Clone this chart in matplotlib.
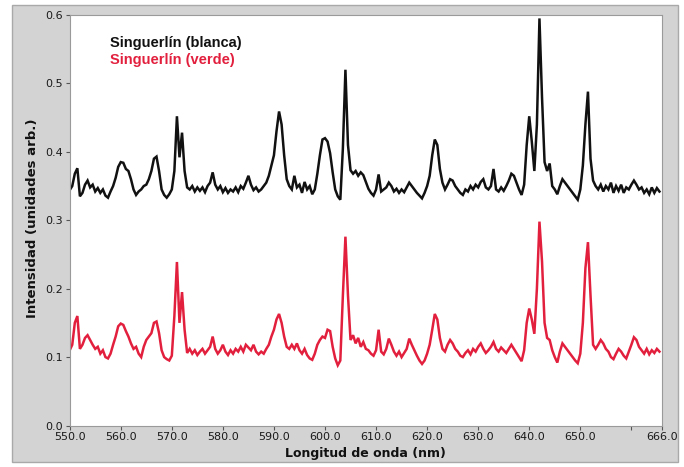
import numpy as np
import matplotlib
matplotlib.use("Agg")
import matplotlib.pyplot as plt
from matplotlib.patches import Rectangle

# ---- data (wavelength grid: 550.0 nm, 0.5 nm steps) ----
start_nm = 550.0
step_nm = 0.5

blanca = [
    0.344, 0.350, 0.368, 0.376, 0.335, 0.340, 0.352, 0.358, 0.348, 0.352,  # 550-554.5
    0.342, 0.347, 0.340, 0.345, 0.336, 0.333, 0.342, 0.350, 0.362, 0.378,  # 555-559.5
    0.385, 0.384, 0.375, 0.372, 0.360, 0.345, 0.337, 0.342, 0.345, 0.350,  # 560-564.5
    0.352, 0.360, 0.372, 0.390, 0.393, 0.372, 0.345, 0.337, 0.333, 0.338,  # 565-569.5
    0.345, 0.372, 0.452, 0.392, 0.428, 0.372, 0.348, 0.345, 0.350, 0.342,  # 570-574.5
    0.348, 0.343, 0.348, 0.341, 0.350, 0.355, 0.370, 0.352, 0.345, 0.350,  # 575-579.5
    0.341, 0.347, 0.340, 0.345, 0.342, 0.348, 0.341, 0.350, 0.346, 0.355,  # 580-584.5
    0.365, 0.352, 0.344, 0.348, 0.342, 0.345, 0.350, 0.355, 0.365, 0.380,  # 585-589.5
    0.395, 0.430, 0.459, 0.440, 0.395, 0.360, 0.350, 0.345, 0.365, 0.348,  # 590-594.5
    0.352, 0.340, 0.356, 0.345, 0.350, 0.338, 0.345, 0.368, 0.395, 0.418,  # 595-599.5
    0.420, 0.415, 0.398, 0.370, 0.345, 0.335, 0.330, 0.405, 0.520, 0.410,  # 600-604.5
    0.373, 0.368, 0.372, 0.365, 0.370, 0.366, 0.356, 0.346, 0.340, 0.336,  # 605-609.5
    0.345, 0.367, 0.342, 0.345, 0.348, 0.355, 0.350, 0.342, 0.346, 0.340,  # 610-614.5
    0.345, 0.341, 0.348, 0.355, 0.350, 0.345, 0.340, 0.336, 0.332, 0.340,  # 615-619.5
    0.350, 0.365, 0.395, 0.418, 0.410, 0.375, 0.355, 0.345, 0.352, 0.360,  # 620-624.5
    0.358, 0.350, 0.345, 0.340, 0.337, 0.345, 0.342, 0.350, 0.345, 0.352,  # 625-629.5
    0.348, 0.356, 0.360, 0.348, 0.345, 0.350, 0.375, 0.345, 0.342, 0.348,  # 630-634.5
    0.343, 0.350, 0.358, 0.368, 0.365, 0.355, 0.345, 0.337, 0.352, 0.410,  # 635-639.5
    0.452, 0.415, 0.372, 0.440, 0.595, 0.480, 0.385, 0.372, 0.383, 0.350,  # 640-644.5
    0.345, 0.338, 0.350, 0.360, 0.355, 0.350, 0.345, 0.340, 0.335, 0.330,  # 645-649.5
    0.345, 0.380, 0.440, 0.488, 0.390, 0.358, 0.350, 0.345, 0.352, 0.342,  # 650-654.5
    0.350, 0.345, 0.355, 0.340, 0.350, 0.343, 0.352, 0.340, 0.348, 0.345,  # 655-659.5
    0.352, 0.358, 0.352, 0.345, 0.348, 0.340, 0.345, 0.338, 0.348, 0.340,  # 660-664.5
    0.347, 0.342,                                                          # 665-665.5
]

verde = [
    0.110, 0.118, 0.150, 0.160, 0.112, 0.118, 0.128, 0.132, 0.125, 0.118,  # 550-554.5
    0.112, 0.115, 0.105, 0.110, 0.100, 0.098, 0.105, 0.118, 0.130, 0.145,  # 555-559.5
    0.149, 0.147, 0.138, 0.130, 0.120, 0.112, 0.115, 0.105, 0.100, 0.115,  # 560-564.5
    0.125, 0.130, 0.135, 0.150, 0.152, 0.135, 0.110, 0.100, 0.097, 0.095,  # 565-569.5
    0.102, 0.160, 0.239, 0.150, 0.195, 0.140, 0.106, 0.112, 0.105, 0.110,  # 570-574.5
    0.103, 0.108, 0.112, 0.105, 0.110, 0.115, 0.130, 0.112, 0.105, 0.110,  # 575-579.5
    0.118, 0.108, 0.103, 0.110, 0.105, 0.112, 0.108, 0.115, 0.108, 0.118,  # 580-584.5
    0.114, 0.110, 0.118, 0.108, 0.104, 0.108, 0.105, 0.112, 0.118, 0.130,  # 585-589.5
    0.140, 0.155, 0.163, 0.150, 0.130, 0.115, 0.112, 0.118, 0.112, 0.120,  # 590-594.5
    0.110, 0.105, 0.112, 0.103, 0.098, 0.096, 0.105, 0.118, 0.125, 0.130,  # 595-599.5
    0.128, 0.140, 0.138, 0.115, 0.098, 0.088, 0.095, 0.190, 0.276, 0.190,  # 600-604.5
    0.125, 0.132, 0.120, 0.128, 0.115, 0.122, 0.112, 0.110, 0.105, 0.102,  # 605-609.5
    0.110, 0.140, 0.108, 0.104, 0.112, 0.127, 0.118, 0.108, 0.102, 0.108,  # 610-614.5
    0.100, 0.106, 0.112, 0.127, 0.118, 0.110, 0.102, 0.095, 0.090, 0.095,  # 615-619.5
    0.105, 0.118, 0.140, 0.163, 0.155, 0.128, 0.112, 0.108, 0.118, 0.125,  # 620-624.5
    0.120, 0.112, 0.108, 0.102, 0.100, 0.106, 0.110, 0.104, 0.112, 0.108,  # 625-629.5
    0.115, 0.120, 0.112, 0.106, 0.110, 0.115, 0.122, 0.112, 0.108, 0.114,  # 630-634.5
    0.110, 0.106, 0.112, 0.118, 0.112, 0.106, 0.100, 0.094, 0.110, 0.150,  # 635-639.5
    0.171, 0.155, 0.134, 0.200, 0.298, 0.240, 0.150, 0.128, 0.125, 0.110,  # 640-644.5
    0.100, 0.092, 0.108, 0.120, 0.115, 0.110, 0.105, 0.100, 0.095, 0.091,  # 645-649.5
    0.105, 0.150, 0.230, 0.268, 0.190, 0.118, 0.112, 0.118, 0.125, 0.120,  # 650-654.5
    0.112, 0.108, 0.100, 0.097, 0.105, 0.112, 0.108, 0.102, 0.098, 0.108,  # 655-659.5
    0.118, 0.129, 0.125, 0.115, 0.110, 0.105, 0.112, 0.104, 0.110, 0.106,  # 660-664.5
    0.112, 0.108,                                                          # 665-665.5
]

xtick_vals = [550, 560, 570, 580, 590, 600, 610, 620, 630, 640, 650, 660, 666]
xtick_labels = ["550.0", "560.0", "570.0", "580.0", "590.0", "600.0", "610.0",
                "620.0", "630.0", "640.0", "650.0", "", "666.0"]
ytick_vals = [0.0, 0.1, 0.2, 0.3, 0.4, 0.5, 0.6]
ytick_labels = ["0.0", "0.1", "0.2", "0.3", "0.4", "0.5", "0.6"]

label_blanca = "Singuerlín (blanca)"
label_verde = "Singuerlín (verde)"
x_title = "Longitud de onda (nm)"
y_title = "Intensidad (unidades arb.)"

# ---- figure ----
W, H = 684, 467
fig = plt.figure(figsize=(W / 100, H / 100), dpi=100)
fig.patch.set_facecolor("white")

def fx(px):
    return px / W

def fy(py):
    return 1 - py / H

# gray panel
panel = Rectangle((fx(12), fy(462)), fx(678) - fx(12), fy(5) - fy(462),
                  transform=fig.transFigure, facecolor="#d3d3d3",
                  edgecolor="#a9a9a9", linewidth=1.0, zorder=-5)
fig.add_artist(panel)

ax = fig.add_axes([fx(69.7), fy(425.5), fx(662) - fx(69.7), fy(15) - fy(425.5)])
ax.set_zorder(1)
ax.set_facecolor("white")

x_b = start_nm + step_nm * np.arange(len(blanca))
x_v = start_nm + step_nm * np.arange(len(verde))

red = "#e2203e"
ax.plot(x_b, blanca, color="#111111", lw=1.8, solid_joinstyle="miter")
ax.plot(x_v, verde, color=red, lw=1.8, solid_joinstyle="miter")

ax.set_xlim(550, 666)
ax.set_ylim(0, 0.6)
ax.set_xticks(xtick_vals)
ax.set_xticklabels(xtick_labels)
ax.set_yticks(ytick_vals)
ax.set_yticklabels(ytick_labels)
ax.tick_params(axis="both", direction="out", length=3, width=0.8,
               color="#555555", labelsize=8, labelcolor="#1a1a1a", pad=2)
for sp in ax.spines.values():
    sp.set_color("#9a9a9a")
    sp.set_linewidth(0.8)

fig.text(fx(365), fy(453), x_title, ha="center", va="center",
         fontsize=9, fontweight="bold", color="#111111", family="DejaVu Sans")
fig.text(fx(33), fy(218), y_title, ha="center", va="center", rotation=90,
         fontsize=9.5, fontweight="bold", color="#111111", family="DejaVu Sans")

ax.text(fx(110), fy(43), label_blanca, transform=fig.transFigure, ha="left", va="center",
        fontsize=10.5, fontweight="bold", color="#111111", family="Liberation Sans")
ax.text(fx(110), fy(60), label_verde, transform=fig.transFigure, ha="left", va="center",
        fontsize=10.5, fontweight="bold", color=red, family="Liberation Sans")

fig.savefig("out.png", dpi=100, facecolor=fig.get_facecolor())
